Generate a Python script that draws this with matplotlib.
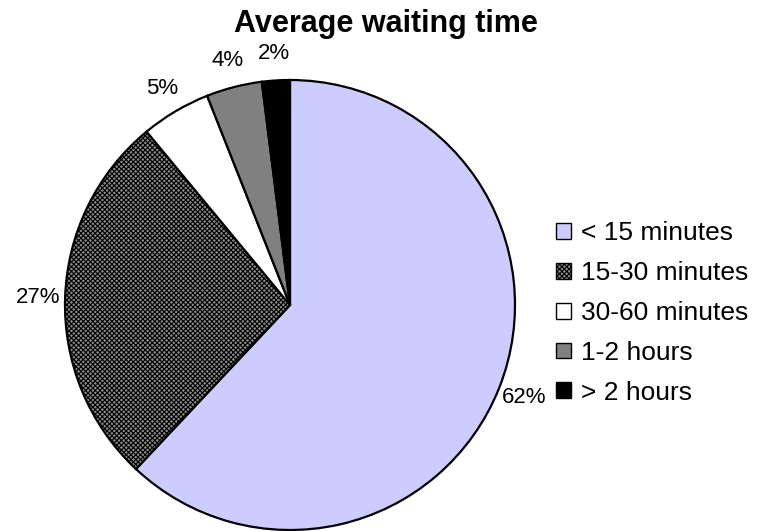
import matplotlib
matplotlib.use("Agg")
import matplotlib.pyplot as plt
from matplotlib.patches import Patch

plt.rcParams['font.family'] = ['Liberation Sans', 'DejaVu Sans']
plt.rcParams['hatch.linewidth'] = 0.8

categories = ["< 15 minutes", "15-30 minutes", "30-60 minutes", "1-2 hours", "> 2 hours"]
shares = [62, 27, 5, 4, 2]
colors = ["#CCCCFF", "#8a8a8a", "#FFFFFF", "#808080", "#000000"]
hatches = [None, "xxxxxxx", None, None, None]
title = "Average waiting time"

W, H = 779, 531
fig = plt.figure(figsize=(W / 100, H / 100), dpi=100)

# pie axes: center (290, 305) px, radius 225 px
cx, cy, r = 290, 305, 225
ax = fig.add_axes([(cx - r) / W, (H - cy - r) / H, 2 * r / W, 2 * r / H])

labels = [f"{v}%" for v in shares]
wedges, texts = ax.pie(
    shares, colors=colors, startangle=90, counterclock=False,
    labels=labels, labeldistance=1.12,
    wedgeprops=dict(edgecolor="black", linewidth=1.6),
    textprops=dict(fontsize=16, color="black"),
)
for w, h in zip(wedges, hatches):
    if h:
        w.set_hatch(h)
        w.set_edgecolor("black")
for t in texts:
    t.set_horizontalalignment("center")
    t.set_verticalalignment("center")
ax.set_xlim(-1, 1)
ax.set_ylim(-1, 1)
ax.set_aspect("equal")
ax.axis("off")

fig.text(386 / W, 1 - 24 / H, title, ha="center", va="center",
         fontsize=22, fontweight="bold")

handles = [Patch(facecolor=c, edgecolor="black", hatch=h, linewidth=1.0)
           for c, h in zip(colors, hatches)]
fig.legend(handles, categories, loc="center left",
           bbox_to_anchor=(556 / W, 1 - 313 / H), frameon=False,
           fontsize=19, handlelength=0.55, handleheight=0.55,
           handletextpad=0.38, labelspacing=0.6, borderpad=0, borderaxespad=0)

fig.savefig("out.png", dpi=100)
